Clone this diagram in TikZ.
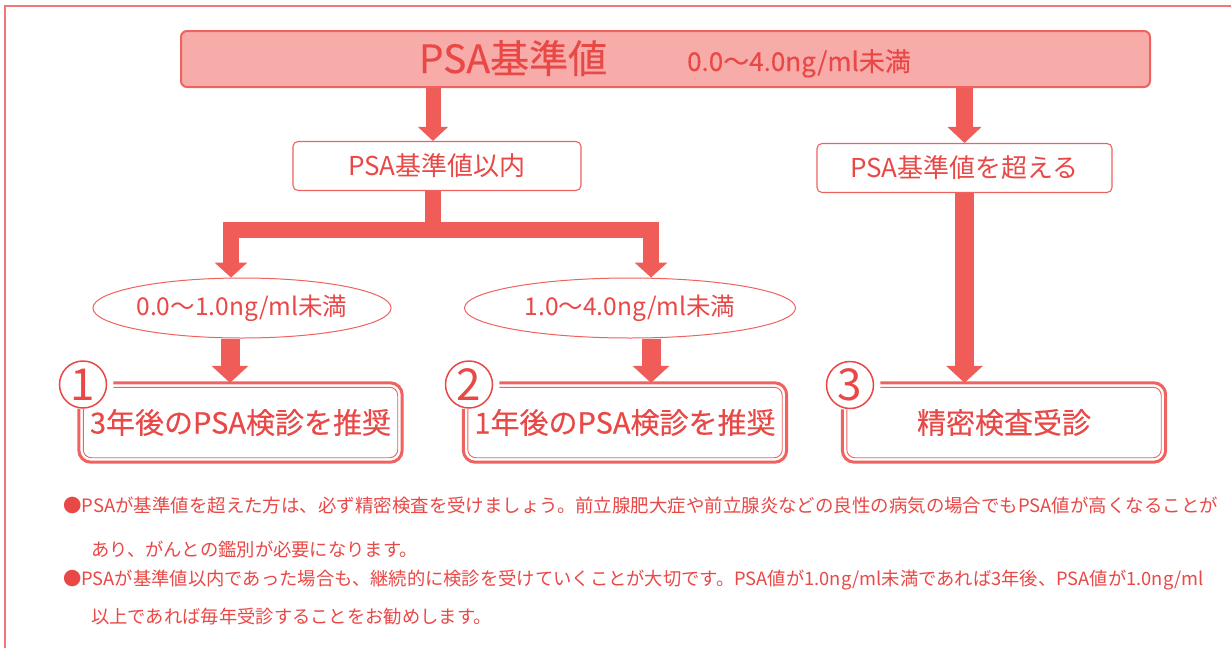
\documentclass[tikz,border=0pt]{standalone}
\usepackage{fontspec}
\setmainfont{Noto Sans CJK JP}
\newfontfamily\cjkmed[FakeBold=0.3]{Noto Sans CJK JP}
\usetikzlibrary{arrows.meta,shapes.geometric,calc}
\definecolor{ared}{RGB}{240,92,88}
\definecolor{tred}{RGB}{232,72,70}
\definecolor{pfill}{RGB}{248,172,170}
\definecolor{bred}{RGB}{238,98,96}
\definecolor{fred}{RGB}{240,120,118}
\tikzset{
  fatA/.style={draw=ared, line width=15pt, line join=miter,
    -{Triangle[width=30pt,length=14pt,line width=0pt]}},
  fatB/.style={draw=ared, line width=16pt, line join=miter,
    -{Triangle[width=33pt,length=15pt,line width=0pt]}},
  fatC/.style={draw=ared, line width=19pt, line join=miter,
    -{Triangle[width=37pt,length=17pt,line width=0pt]}},
  topbox/.style={draw=bred, fill=pfill, line width=2pt, rounded corners=6pt,
    minimum width=969pt, minimum height=56pt, inner sep=0pt},
  midbox/.style={draw=bred, fill=white, line width=1.1pt, rounded corners=5pt,
    minimum height=49pt, inner sep=0pt, text=tred,
    font=\fontsize{26}{30}\selectfont},
  ellbox/.style={ellipse, draw=bred, line width=1pt, minimum height=60pt,
    inner sep=0pt, text=tred, font=\fontsize{24.5}{28}\selectfont},
  resbox/.style={minimum width=323pt, minimum height=79pt, inner sep=0pt,
    text=tred, font=\cjkmed\fontsize{29}{33}\selectfont},
  numcirc/.style={circle, draw=tred, line width=1.5pt, minimum size=47pt,
    inner sep=0pt, text=tred, font=\fontsize{44}{44}\selectfont},
  outerfr/.style={draw=bred, line width=3pt, rounded corners=12pt},
  innerfr/.style={draw=bred, line width=0.9pt, rounded corners=8pt},
  note/.style={inner sep=0pt, anchor=base west, text=tred,
    font=\fontsize{18.3}{22}\selectfont},
}
\begin{document}
\begin{tikzpicture}[x=1pt,y=-1pt]
\useasboundingbox (0,0) rectangle (1231,648);
\fill[white] (0,0) rectangle (1231,648);
% outer frame
\draw[fred, line width=1.2pt] (5,648) -- (5,6) -- (1231,6);

% top box
\node[topbox] (top) at (665.5,59) {};
\node[inner sep=0pt, anchor=base, text=tred, font=\cjkmed\fontsize{39}{40}\selectfont] (t1) at (513,73) {PSA基準値};
\node[inner sep=0pt, anchor=base, text=tred, font=\cjkmed\fontsize{26}{28}\selectfont] (t2) at (799,71) {0.0～4.0ng/ml未満};

% middle boxes
\node[midbox, minimum width=288pt] (mid1) at (437,166) {PSA基準値以内};
\node[midbox, minimum width=295pt] (mid2) at (964.5,168) {PSA基準値を超える};

% x positions of the connectors
\coordinate (xM) at (433,0);
\coordinate (xL) at (231,0);
\coordinate (xR) at (651,0);
\coordinate (j) at (433,230);

% ellipses
\node[ellbox, minimum width=294pt] (ell1) at (242,308) {0.0～1.0ng/ml未満};
\node[ellbox, minimum width=331pt] (ell2) at (630,308) {1.0～4.0ng/ml未満};

% result boxes
\node[resbox] (b1) at (240.5,422.5) {3年後のPSA検診を推奨};
\node[resbox] (b2) at (625,422.5) {1年後のPSA検診を推奨};
\node[resbox] (b3) at (1004,422.5) {精密検査受診};

\node[numcirc] (c1) at (83,384.5) {1};
\node[numcirc] (c2) at (469,384.5) {2};
\node[numcirc] (c3) at (850,385) {3};

\foreach \b/\c in {b1/c1,b2/c2,b3/c3}{
  \draw[outerfr] ($(\c.east |- \b.north)+(6,0)$) -- (\b.north east) -- (\b.south east)
      -- (\b.south west) -- (\b.west |- \c.south);
  \draw[innerfr] ($(\c.east |- \b.north)+(6,4.5)$) -- ($(\b.north east)+(-4.5,4.5)$)
      -- ($(\b.south east)+(-4.5,-4.5)$) -- ($(\b.south west)+(4.5,-4.5)$)
      -- ($(\b.west |- \c.south)+(4.5,0)$);
}

% connectors
\draw[fatA] (top.south -| xM) -- (mid1.north -| xM);
\draw[fatA, line width=17pt, -{Triangle[width=34pt,length=16pt,line width=0pt]}] (top.south -| mid2.north) -- (mid2.north);
\draw[draw=ared, line width=16pt] (mid1.south -| xM) -- (j);
\draw[fatB] ($(j)+(8,0)$) -| (ell1.north -| xL);
\draw[fatB] ($(j)+(-8,0)$) -| (ell2.north -| xR);
\draw[fatC] ([xshift=-12pt]ell1.south) -- ([xshift=-12pt]ell1.south |- b1.north);
\draw[fatC] (ell2.south -| xR) -- (b2.north -| xR);
\draw[fatC] (mid2.south) -- (mid2.south |- b3.north);

% notes
\node[note, font=\fontsize{18.45}{22}\selectfont] (n1) at (63,512) {●PSAが基準値を超えた方は、必ず精密検査を受けましょう。前立腺肥大症や前立腺炎などの良性の病気の場合でもPSA値が高くなることが};
\node[note] (n2) at (91,556) {あり、がんとの鑑別が必要になります。};
\node[note] (n3) at (63,585) {●PSAが基準値以内であった場合も、継続的に検診を受けていくことが大切です。PSA値が1.0ng/ml未満であれば3年後、PSA値が1.0ng/ml};
\node[note] (n4) at (91,623) {以上であれば毎年受診することをお勧めします。};
\end{tikzpicture}
\end{document}
